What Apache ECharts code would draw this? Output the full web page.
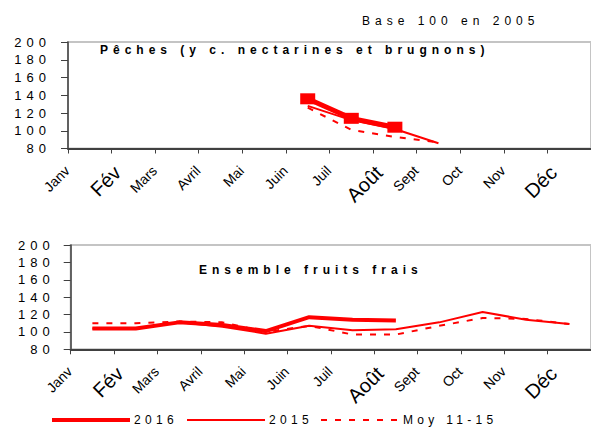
<!DOCTYPE html>
<html><head><meta charset="utf-8">
<script src="https://cdn.jsdelivr.net/npm/echarts@6/dist/echarts.min.js"></script>
<style>html,body{margin:0;padding:0;background:#fff}#c{width:591px;height:428px}</style>
</head><body><div id="c"></div>
<script>
// ---- data ----
const months = ['Janv','Fév','Mars','Avril','Mai','Juin','Juil','Août','Sept','Oct','Nov','Déc'];
const bigMonths = ['Fév','Août','Déc'];
const yMin = 80, yMax = 200, yStep = 20;
const seriesNames = ['2016','2015','Moy 11-15'];
// Pêches
const peach2016 = [null,null,null,null,null,136,114,104,null,null,null,null];
const peach2015 = [null,null,null,null,null,128,112,102,86,null,null,null];
const peachMoy  = [null,null,null,null,null,126,101,93,87,null,null,null];
// Ensemble fruits frais
const fruit2016 = [104,104,111,108,101,117,114,113,null,null,null,null];
const fruit2015 = [104,104,111,106,98,107,102,103,111,123,114,109];
const fruitMoy  = [110,110,112,111,100,107,97,97,107,116,115,109];
const titleTop = 'Pêches (y c. nectarines et brugnons)';
const titleBottom = 'Ensemble fruits frais';
const baseNote = 'Base 100 en 2005';

const FONT = "'Liberation Sans', Arial, sans-serif";
const RED = '#ff0000';
const AX = '#404040';

function makeX(gi){
  return {
    type:'category', gridIndex:gi, data:months, boundaryGap:true,
    axisLine:{show:true, lineStyle:{color:AX, width:2}},
    axisTick:{show:true, length:5, lineStyle:{color:AX, width:1}},
    axisLabel:{
      rotate:45, interval:0, margin:0, color:'#000', fontFamily:FONT,
      formatter: v => bigMonths.includes(v) ? '{b|'+v+'}' : '{n|'+v+'}',
      rich:{
        n:{fontSize:14, fontFamily:FONT, color:'#000', padding:[0,30,4,0]},
        b:{fontSize:20, fontFamily:FONT, color:'#000', padding:[7,26,0,0]}
      }
    },
    splitLine:{show:false}
  };
}
function makeY(gi, margin){
  return {
    type:'value', gridIndex:gi, min:yMin, max:yMax, interval:yStep,
    axisLine:{show:true, lineStyle:{color:AX, width:1.5}},
    axisTick:{show:true, length:7, lineStyle:{color:AX, width:1}},
    axisLabel:{margin:margin, fontSize:13, color:'#000', fontFamily:FONT},
    splitLine:{show:false}
  };
}
function lineSeries(name, gi, data, width, dashed, symbol){
  return {
    name:name, type:'line', xAxisIndex:gi, yAxisIndex:gi, data:data,
    symbol: symbol ? 'rect' : 'none', symbolSize:[15,11], showAllSymbol:true,
    lineStyle:{color:RED, width:width, type: dashed ? [6,8] : 'solid'},
    itemStyle:{color:RED}, connectNulls:false
  };
}
function legendAt(name, left, lw, dashed){
  return {
    data:[name], left:left, top:414, itemWidth:78, itemHeight:14, padding:0,
    selectedMode:false,
    itemStyle:{opacity:0},
    lineStyle:{color:RED, width:lw, type: dashed ? [6,8] : 'solid'},
    textStyle:{fontSize:12, color:'#000', fontFamily:FONT, padding:[0,0,0,-1]}
  };
}

const chart = echarts.init(document.getElementById('c'), null, {renderer:'svg'});
chart.setOption({
  animation:false,
  backgroundColor:'#fff',
  title:[
    {text:baseNote, left:362, top:15, padding:0, textStyle:{fontSize:12, fontWeight:'normal', color:'#000', fontFamily:FONT}},
    {text:titleTop, left:100, top:44, padding:0, textStyle:{fontSize:12, fontWeight:'bold', color:'#000', fontFamily:FONT}},
    {text:titleBottom, left:199, top:264, padding:0, textStyle:{fontSize:12, fontWeight:'bold', color:'#000', fontFamily:FONT}}
  ],
  grid:[
    {left:68, top:42, width:527, height:106.5, show:true, borderColor:'#c4c4c4', borderWidth:2, backgroundColor:'transparent'},
    {left:70.7, top:245, width:524, height:104.3, show:true, borderColor:'#c4c4c4', borderWidth:2, backgroundColor:'transparent'}
  ],
  xAxis:[makeX(0), makeX(1)],
  yAxis:[makeY(0,17), makeY(1,16)],
  legend:[
    legendAt('2016', 50, 4, false),
    legendAt('2015', 186, 2, false),
    legendAt('Moy 11-15', 320, 2, true)
  ],
  series:[
    lineSeries('Moy 11-15', 1, fruitMoy, 2, true, false),
    lineSeries('2015', 1, fruit2015, 2, false, false),
    lineSeries('2016', 1, fruit2016, 4, false, false),
    lineSeries('Moy 11-15', 0, peachMoy, 2, true, false),
    lineSeries('2015', 0, peach2015, 2, false, false),
    lineSeries('2016', 0, peach2016, 5, false, true)
  ]
});

function applySpacing(){
  document.querySelectorAll('#c text').forEach(t => {
    const s = t.textContent;
    let ls = null;
    if (/^\d{2,3}$/.test(s)) ls = 5;
    else if (s === titleTop || s === titleBottom || s === baseNote) ls = 5;
    else if (seriesNames.includes(s)) ls = 4.3;
    if (ls !== null) t.setAttribute('letter-spacing', ls);
  });
}
chart.on('finished', applySpacing);
applySpacing();
setTimeout(applySpacing, 0);
setTimeout(applySpacing, 100);
</script>
</body></html>
